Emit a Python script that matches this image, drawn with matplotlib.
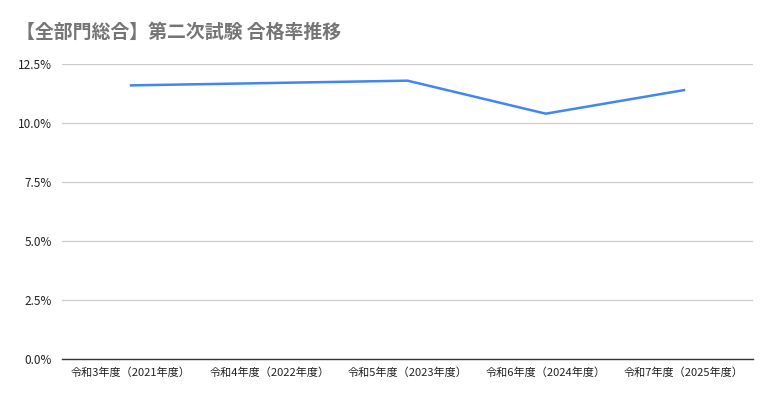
import matplotlib
matplotlib.use("Agg")
import matplotlib.pyplot as plt
from matplotlib.ticker import FuncFormatter

plt.rcParams['font.family'] = ['Noto Sans CJK JP', 'DejaVu Sans']

categories = ["令和3年度(2021年度)", "令和4年度(2022年度)", "令和5年度(2023年度)",
              "令和6年度(2024年度)", "令和7年度(2025年度)"]
rates = [11.6, 11.7, 11.8, 10.4, 11.4]
yticks = [0, 2.5, 5.0, 7.5, 10.0, 12.5]
title = "【全部門総合】第二次試験 合格率推移"

fig = plt.figure(figsize=(7.74, 4.01), dpi=100)
ax = fig.add_axes([0.080, 0.105, 0.893, 0.735])
x = list(range(len(categories)))
ax.plot(x, rates, color="#4285F4", linewidth=1.8, solid_joinstyle='miter')
ax.set_xlim(-0.5, len(categories) - 0.5)
ax.set_ylim(0, 12.5)
ax.set_yticks(yticks)
ax.yaxis.set_major_formatter(FuncFormatter(lambda v, p: f"{v:.1f}%"))
ax.set_xticks(x)
ax.set_xticklabels([c.replace("(", "（").replace(")", "）") for c in categories])
ax.grid(axis='y', color="#cccccc", linewidth=0.9)
ax.set_axisbelow(True)
for s in ['top', 'right', 'left']:
    ax.spines[s].set_visible(False)
ax.spines['bottom'].set_color("#333333")
ax.spines['bottom'].set_linewidth(1.0)
ax.tick_params(axis='both', length=0, labelsize=8, colors="#222222", pad=5)
ax.tick_params(axis='y', labelsize=8.5, pad=7)
ax.tick_params(axis='x', pad=6)
fig.text(0.021, 0.918, title, fontsize=13.6, color="#757575", fontweight='bold', va='center', ha='left')
fig.savefig("out.png", dpi=100)
